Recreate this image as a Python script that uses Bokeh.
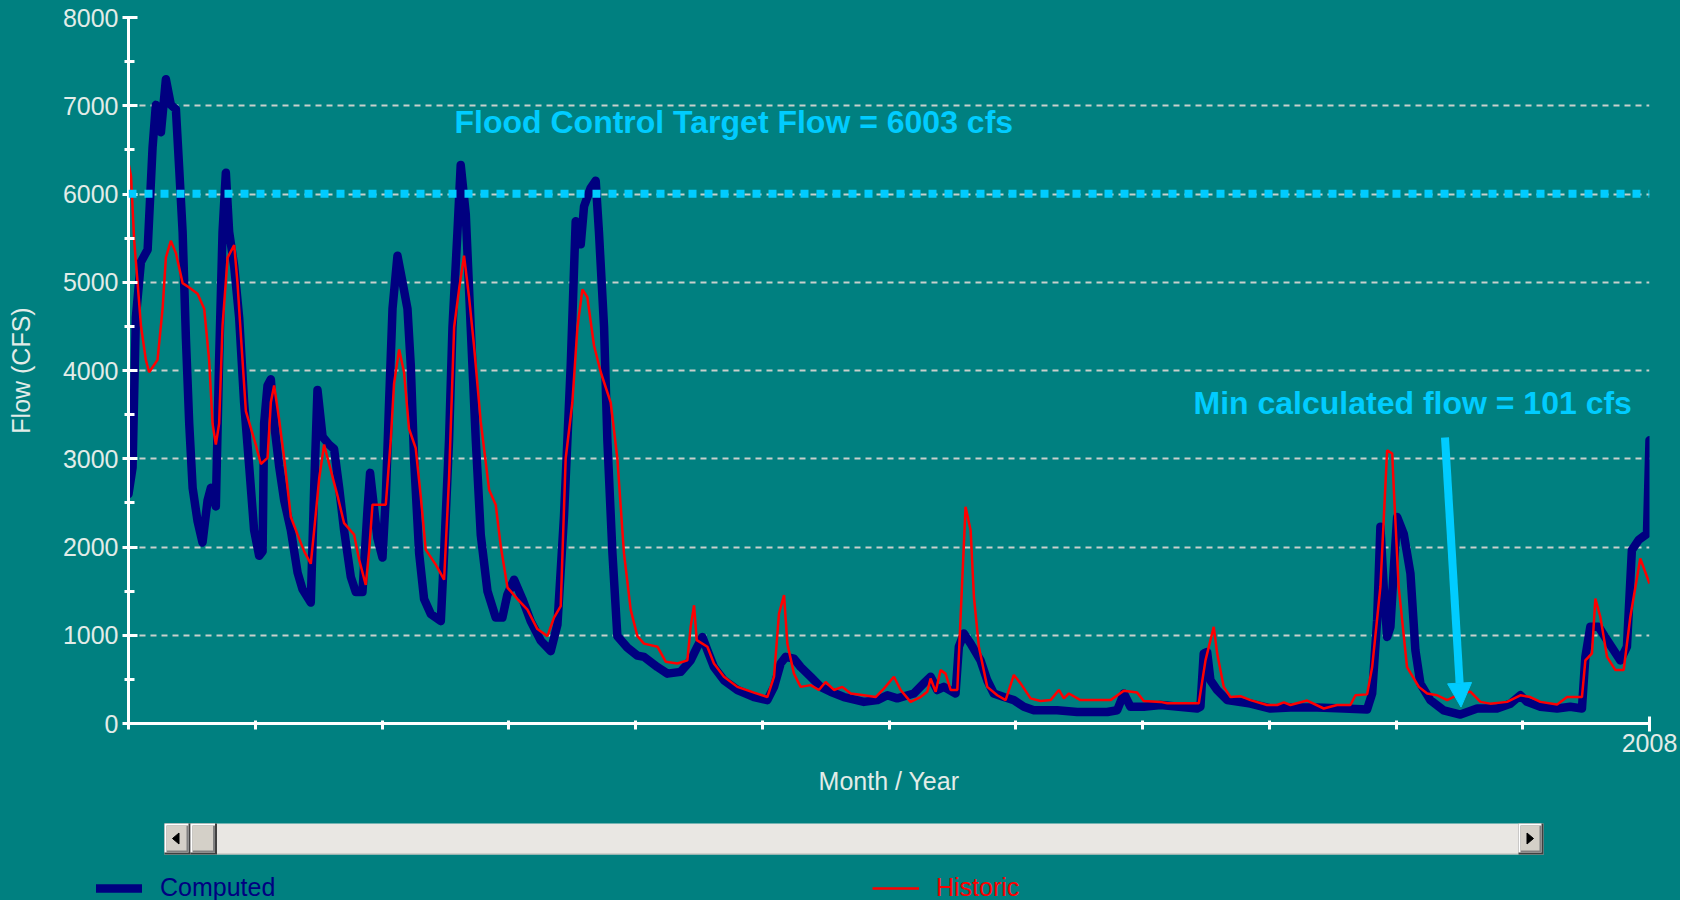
from bokeh.plotting import figure
from bokeh.models import (Range1d, FixedTicker, Span, Label, Arrow, NormalHead,
                          Legend, LegendItem)
from bokeh.layouts import column
from bokeh.embed import file_html
from bokeh.resources import INLINE

# ---------------- data (decimal year, flow in cfs) ----------------
computed_years = [1996.000, 1996.032, 1996.058, 1996.098, 1996.151, 1996.190, 1996.216, 1996.256, 1996.295, 1996.334,
                  1996.374, 1996.400, 1996.427, 1996.453, 1996.479, 1996.506, 1996.545, 1996.584, 1996.624, 1996.650,
                  1996.689, 1996.715, 1996.742, 1996.768, 1996.794, 1996.834, 1996.873, 1996.912, 1996.952, 1996.991,
                  1997.031, 1997.058, 1997.070, 1997.097, 1997.123, 1997.149, 1997.188, 1997.228, 1997.281, 1997.334,
                  1997.373, 1997.438, 1997.465, 1997.491, 1997.531, 1997.583, 1997.622, 1997.662, 1997.701, 1997.754,
                  1997.793, 1997.846, 1997.886, 1997.906, 1997.938, 1997.964, 1998.004, 1998.030, 1998.056, 1998.083,
                  1998.122, 1998.162, 1998.201, 1998.227, 1998.253, 1998.293, 1998.332, 1998.385, 1998.464, 1998.490,
                  1998.529, 1998.556, 1998.595, 1998.621, 1998.661, 1998.700, 1998.740, 1998.779, 1998.832, 1998.897,
                  1998.950, 1998.989, 1999.042, 1999.108, 1999.173, 1999.252, 1999.331, 1999.384, 1999.436, 1999.489,
                  1999.528, 1999.568, 1999.594, 1999.647, 1999.686, 1999.712, 1999.752, 1999.778, 1999.818, 1999.857,
                  1999.936, 2000.015, 2000.067, 2000.173, 2000.252, 2000.356, 2000.435, 2000.488, 2000.528, 2000.567,
                  2000.619, 2000.698, 2000.804, 2000.935, 2001.040, 2001.093, 2001.145, 2001.185, 2001.250, 2001.303,
                  2001.382, 2001.461, 2001.539, 2001.644, 2001.802, 2001.908, 2001.987, 2002.065, 2002.196, 2002.275,
                  2002.328, 2002.381, 2002.433, 2002.525, 2002.551, 2002.591, 2002.644, 2002.722, 2002.775, 2002.827,
                  2002.906, 2002.985, 2003.064, 2003.143, 2003.327, 2003.485, 2003.722, 2003.800, 2003.853, 2003.905,
                  2004.010, 2004.142, 2004.431, 2004.457, 2004.483, 2004.510, 2004.536, 2004.589, 2004.668, 2004.852,
                  2005.009, 2005.167, 2005.378, 2005.588, 2005.772, 2005.812, 2005.851, 2005.877, 2005.903, 2005.930,
                  2005.956, 2005.982, 2006.009, 2006.061, 2006.114, 2006.153, 2006.193, 2006.271, 2006.376, 2006.508,
                  2006.640, 2006.797, 2006.902, 2006.981, 2007.034, 2007.139, 2007.271, 2007.375, 2007.467, 2007.494,
                  2007.533, 2007.599, 2007.665, 2007.770, 2007.822, 2007.861, 2007.915, 2007.980, 2007.998, 2008.000]
computed_cfs = [2600, 2900, 4600, 5230, 5370, 6530, 7010, 6700, 7300, 7010,
                6960, 6290, 5570, 4360, 3400, 2670, 2290, 2050, 2530, 2670,
                2460, 4120, 5570, 6240, 5570, 5180, 4600, 3640, 2920, 2190,
                1900, 1950, 3400, 3830, 3900, 3400, 2920, 2530, 2190, 1710,
                1520, 1370, 2670, 3780, 3250, 3160, 3110, 2670, 2190, 1660,
                1490, 1490, 2430, 2840, 2430, 2100, 1880, 2570, 3640, 4700,
                5300, 5000, 4700, 4060, 3000, 1930, 1410, 1240, 1160, 1930,
                3210, 4490, 5560, 6330, 5770, 4490, 3210, 2140, 1500, 1200,
                1200, 1460, 1630, 1410, 1160, 940, 820, 1120, 2350, 4060,
                5690, 5430, 5860, 6070, 6150, 5560, 4490, 3210, 1930, 990,
                860, 770, 755, 640, 565, 585, 715, 870, 980, 830,
                640, 490, 380, 300, 265, 415, 680, 755, 735, 640,
                530, 415, 360, 300, 245, 265, 320, 285, 340, 455,
                530, 380, 415, 340, 870, 1020, 905, 715, 490, 340,
                300, 265, 190, 150, 150, 130, 130, 150, 340, 190,
                190, 210, 170, 190, 795, 810, 490, 380, 265, 225,
                170, 180, 180, 170, 160, 340, 1170, 2230, 1550, 980,
                1095, 1740, 2340, 2150, 1700, 830, 450, 265, 150, 101,
                170, 170, 225, 320, 245, 190, 170, 190, 170, 755,
                1095, 1095, 945, 715, 870, 1965, 2080, 2150, 3100, 3210]

historic_years = [1996.000, 1996.020, 1996.045, 1996.072, 1996.098, 1996.137, 1996.163, 1996.229, 1996.269, 1996.295,
                  1996.334, 1996.374, 1996.427, 1996.479, 1996.545, 1996.597, 1996.636, 1996.663, 1996.689, 1996.715,
                  1996.742, 1996.782, 1996.834, 1996.860, 1996.886, 1996.926, 1996.965, 1997.004, 1997.044, 1997.097,
                  1997.123, 1997.149, 1997.188, 1997.228, 1997.281, 1997.334, 1997.386, 1997.438, 1997.465, 1997.504,
                  1997.543, 1997.596, 1997.649, 1997.701, 1997.780, 1997.819, 1997.872, 1997.898, 1997.925, 1998.030,
                  1998.069, 1998.095, 1998.135, 1998.174, 1998.213, 1998.266, 1998.306, 1998.345, 1998.424, 1998.490,
                  1998.529, 1998.569, 1998.608, 1998.647, 1998.687, 1998.726, 1998.779, 1998.845, 1998.897, 1998.937,
                  1998.990, 1999.069, 1999.147, 1999.226, 1999.305, 1999.357, 1999.410, 1999.449, 1999.502, 1999.542,
                  1999.581, 1999.620, 1999.673, 1999.726, 1999.804, 1999.857, 1999.909, 1999.962, 2000.015, 2000.067,
                  2000.173, 2000.238, 2000.330, 2000.409, 2000.435, 2000.462, 2000.483, 2000.567, 2000.619, 2000.698,
                  2000.804, 2000.935, 2001.040, 2001.093, 2001.132, 2001.172, 2001.198, 2001.250, 2001.303, 2001.382,
                  2001.447, 2001.500, 2001.566, 2001.632, 2001.698, 2001.802, 2001.894, 2001.960, 2002.039, 2002.092,
                  2002.170, 2002.249, 2002.302, 2002.328, 2002.368, 2002.407, 2002.446, 2002.486, 2002.539, 2002.578,
                  2002.604, 2002.644, 2002.670, 2002.709, 2002.775, 2002.854, 2002.920, 2002.985, 2003.038, 2003.117,
                  2003.196, 2003.275, 2003.340, 2003.380, 2003.419, 2003.511, 2003.748, 2003.853, 2003.958, 2004.010,
                  2004.142, 2004.195, 2004.444, 2004.497, 2004.562, 2004.589, 2004.641, 2004.694, 2004.773, 2004.852,
                  2004.983, 2005.062, 2005.115, 2005.167, 2005.299, 2005.430, 2005.535, 2005.640, 2005.680, 2005.772,
                  2005.812, 2005.877, 2005.930, 2005.970, 2005.982, 2006.021, 2006.087, 2006.180, 2006.246, 2006.325,
                  2006.404, 2006.508, 2006.587, 2006.666, 2006.744, 2006.876, 2006.981, 2007.060, 2007.139, 2007.271,
                  2007.350, 2007.467, 2007.494, 2007.546, 2007.573, 2007.612, 2007.665, 2007.731, 2007.796, 2007.849,
                  2007.927, 2008.000]
historic_cfs = [6350, 6200, 5470, 4990, 4510, 4120, 3980, 4120, 4700, 5280,
                5470, 5330, 4990, 4940, 4870, 4700, 4120, 3400, 3160, 3400,
                4510, 5280, 5420, 4990, 4410, 3540, 3350, 3160, 2940, 3010,
                3640, 3830, 3450, 3010, 2340, 2140, 1950, 1810, 2190, 2770,
                3160, 2870, 2580, 2270, 2140, 1860, 1570, 1950, 2480, 2480,
                3210, 3850, 4240, 3980, 3340, 3120, 2570, 1970, 1800, 1630,
                2780, 4490, 4920, 5300, 4830, 4280, 3420, 2650, 2480, 2010,
                1540, 1410, 1290, 1070, 990, 1200, 1330, 3000, 3640, 4490,
                4920, 4830, 4280, 3980, 3640, 3000, 1930, 1290, 990, 905,
                870, 700, 680, 715, 1095, 1340, 945, 870, 680, 530,
                415, 350, 300, 530, 1245, 1455, 905, 565, 415, 435,
                380, 470, 380, 415, 340, 320, 300, 395, 530, 380,
                245, 300, 360, 510, 360, 605, 565, 380, 380, 1625,
                2455, 2190, 1435, 870, 415, 320, 265, 550, 455, 285,
                255, 265, 380, 285, 340, 265, 265, 370, 350, 255,
                245, 230, 230, 715, 1095, 795, 415, 300, 310, 265,
                210, 210, 240, 210, 260, 170, 210, 210, 320, 330,
                640, 1550, 3095, 3060, 2680, 1550, 640, 415, 340, 320,
                265, 340, 360, 245, 225, 245, 320, 300, 245, 215,
                300, 300, 715, 795, 1415, 1210, 755, 605, 605, 1210,
                1870, 1585]

flood_target = 6003
y_ticks = [0, 1000, 2000, 3000, 4000, 5000, 6000, 7000, 8000]
y_minor = [500, 1500, 2500, 3500, 4500, 5500, 6500, 7500]
x_major = [2008]
x_minor = [1996, 1997, 1998, 1999, 2000, 2001, 2002, 2003, 2004, 2005, 2006, 2007]

# ---------------- styling / layout ----------------
TEAL = "#008080"
NAVY = "#000080"
RED = "#ff0000"
CYAN = "#00ccff"
LIGHT = "#e2ece8"
FONT = "Liberation Sans"
NAN = float("nan")

W = 1680
H_MAIN, H_STRIP = 808, 92
FR_L, FR_R, FR_T, FR_B = 128, 1649, 17, 723   # frame edges in canvas pixels
X0, X1, Y0, Y1 = 1996, 2008, 0, 8000

p = figure(width=W, height=H_MAIN, x_range=Range1d(X0, X1), y_range=Range1d(Y0, Y1),
           toolbar_location=None, output_backend="svg", frame_align=False,
           min_border_left=FR_L, min_border_right=W - FR_R, min_border_top=FR_T,
           min_border_bottom=H_MAIN - FR_B,
           background_fill_color=TEAL, border_fill_color=TEAL, outline_line_color=None,
           x_axis_label="Month / Year", y_axis_label="Flow (CFS)")


def dx(px):
    return X0 + (px - FR_L) * (X1 - X0) / (FR_R - FR_L)


def dy(py):
    return Y0 + (FR_B - py) * (Y1 - Y0) / (FR_B - FR_T)


p.xaxis.ticker = FixedTicker(ticks=x_major, minor_ticks=x_minor)
p.yaxis.ticker = FixedTicker(ticks=y_ticks, minor_ticks=y_minor)

for ax in (p.xaxis[0], p.yaxis[0]):
    ax.axis_line_color = "white"
    ax.axis_line_width = 3
    ax.major_tick_line_color = "white"
    ax.major_tick_line_width = 3
    ax.minor_tick_line_color = "white"
    ax.minor_tick_line_width = 3
    ax.major_label_text_color = LIGHT
    ax.major_label_text_font = FONT
    ax.major_label_text_font_size = "25px"
    ax.axis_label_text_color = LIGHT
    ax.axis_label_text_font = FONT
    ax.axis_label_text_font_size = "25px"
    ax.axis_label_text_font_style = "normal"

p.yaxis.major_tick_in = 9
p.yaxis.major_tick_out = 6
p.yaxis.minor_tick_in = 6
p.yaxis.minor_tick_out = 4
p.yaxis.major_label_standoff = 4
p.yaxis.axis_label_standoff = 25

p.xaxis.major_tick_in = 7
p.xaxis.major_tick_out = 8
p.xaxis.minor_tick_in = 3
p.xaxis.minor_tick_out = 6
p.xaxis.major_label_standoff = 2
p.xaxis.axis_label_standoff = 12

for g in (p.xgrid[0], p.ygrid[0]):
    g.grid_line_color = "#c8d0cc"
    g.grid_line_width = 2
    g.grid_line_dash = "6 5"

p.line(computed_years, computed_cfs, line_color=NAVY, line_width=8.5,
       line_join="round", line_cap="round")
p.line(historic_years, historic_cfs, line_color=RED, line_width=2.5)

p.add_layout(Span(location=flood_target, dimension="width", line_color=CYAN,
                  line_width=8, line_dash="8 8"))

p.add_layout(Label(x=dx(454), y=dy(121), text=f"Flood Control Target Flow = {flood_target} cfs",
                   text_color=CYAN, text_font=FONT, text_font_size="32px",
                   text_font_style="bold", text_baseline="middle"))

min_i = computed_cfs.index(min(computed_cfs))
min_x, min_y = computed_years[min_i], computed_cfs[min_i]
p.add_layout(Label(x=dx(1193), y=dy(402), text=f"Min calculated flow = {min_y} cfs",
                   text_color=CYAN, text_font=FONT, text_font_size="32px",
                   text_font_style="bold", text_baseline="middle"))
p.add_layout(Arrow(end=NormalHead(size=24, fill_color=CYAN, line_color=CYAN),
                   x_start=dx(1444.5), y_start=dy(437), x_end=min_x + 0.005, y_end=min_y + 85,
                   line_color=CYAN, line_width=8))

# ---------------- lower strip: scrollbar + legend (own frame, not aligned) ----------------
q = figure(width=W, height=H_STRIP, x_range=Range1d(0, W), y_range=Range1d(H_MAIN + H_STRIP, H_MAIN),
           toolbar_location=None, output_backend="svg", frame_align=False,
           min_border_left=0, min_border_right=0, min_border_top=0, min_border_bottom=0,
           x_axis_type=None, y_axis_type=None,
           background_fill_color=TEAL, border_fill_color=TEAL, outline_line_color=None)

SB_L, SB_R, SB_T, SB_B = 164, 1543, 823, 854


def box(l, r, t, b, color):
    q.quad(left=[l], right=[r], top=[t], bottom=[b], fill_color=color, line_color=None)


box(SB_L, SB_R, SB_T, SB_B, "#e9e7e3")
box(SB_L, SB_R, SB_B - 1, SB_B, "#b8b8b4")


def button(l, r):
    t, b = SB_T, SB_B
    box(l, r, t, b, "#404040")
    box(l, r - 2, t, b - 2, "#ffffff")
    box(l + 2, r - 2, t + 2, b - 2, "#808080")
    box(l + 2, r - 4, t + 2, b - 4, "#d4d0c8")


button(164, 190)
button(190, 216.5)
button(1518, 1543)
q.patch([172, 178.5, 178.5], [838, 832.5, 843.5], fill_color="black", line_color="black", line_width=1)
q.patch([1533, 1526.5, 1526.5], [838, 832.5, 843.5], fill_color="black", line_color="black", line_width=1)

# legend proxies mirroring the two series' styles (a single NaN point: nothing is drawn)
proxy_comp = q.line(x=[NAN], y=[NAN], line_color=NAVY, line_width=8.5, line_cap="round")
proxy_hist = q.line(x=[NAN], y=[NAN], line_color=RED, line_width=2.5)

LEG_H = 28
LEG_CY = 888                      # page y of the legend row centre
leg_y = (H_MAIN + H_STRIP) - (LEG_CY + LEG_H // 2)   # from strip bottom, up
leg_common = dict(orientation="horizontal", padding=0, margin=0, spacing=0,
                  glyph_height=LEG_H, label_height=LEG_H,
                  label_text_font=FONT, label_text_font_size="25px",
                  background_fill_alpha=0, border_line_alpha=0)

q.add_layout(Legend(items=[LegendItem(label="Computed", renderers=[proxy_comp])],
                    location=(96, leg_y), glyph_width=142 - 96, label_standoff=160 - 142,
                    label_text_color=NAVY, **leg_common))
q.add_layout(Legend(items=[LegendItem(label="Historic", renderers=[proxy_hist])],
                    location=(872, leg_y), glyph_width=919 - 872, label_standoff=936 - 919,
                    label_text_color=RED, **leg_common))

layout = column(p, q, spacing=0, styles={"background-color": TEAL})
open("out.html", "w").write(file_html(layout, INLINE))
